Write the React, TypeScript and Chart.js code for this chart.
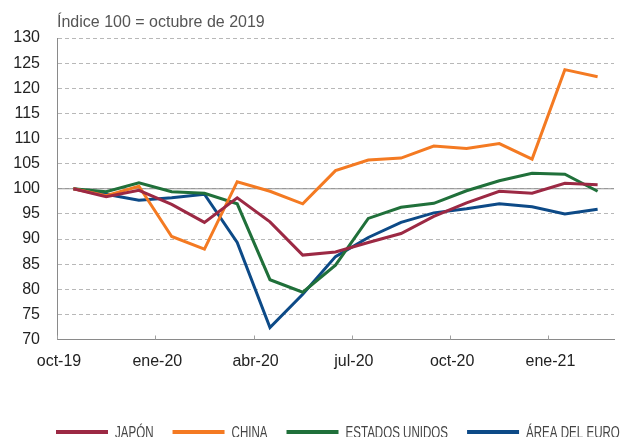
import React, { useEffect, useRef } from "react";
import { Chart, registerables } from "chart.js";
Chart.register(...registerables);

const months = ["oct-19","nov-19","dic-19","ene-20","feb-20","mar-20","abr-20","may-20","jun-20","jul-20","ago-20","sep-20","oct-20","nov-20","dic-20","ene-21","feb-21"];
const tickMonths = ["oct-19","ene-20","abr-20","jul-20","oct-20","ene-21"];
const japon = [100, 98.4, 99.7, 96.9, 93.3, 98.2, 93.4, 86.8, 87.4, 89.3, 91.1, 94.5, 97.2, 99.5, 99.1, 101.1, 100.8];
const china = [100, 98.6, 100.5, 90.5, 88.0, 101.4, 99.5, 97.0, 103.6, 105.7, 106.1, 108.5, 108.0, 109.0, 105.9, 123.7, 122.3];
const eeuu = [100, 99.4, 101.2, 99.4, 99.1, 97.0, 81.9, 79.4, 84.8, 94.1, 96.3, 97.1, 99.6, 101.6, 103.1, 102.9, 99.5];
const euro = [100, 98.9, 97.7, 98.2, 98.9, 89.3, 72.4, 79.0, 86.5, 90.3, 93.3, 95.2, 96.0, 97.0, 96.4, 95.0, 95.9];
const seriesNames = ["JAPÓN", "CHINA", "ESTADOS UNIDOS", "ÁREA DEL EURO"];
const seriesColors = ["#9C2944", "#F47A22", "#20703A", "#0D4A87"];
const titleText = "Índice 100 = octubre de 2019";

const FONT = "'Liberation Sans', Arial, sans-serif";

const decor = {
  id: "decor",
  beforeDatasetsDraw(chart: any) {
    const { ctx, chartArea, scales } = chart;
    const x = scales.x, y = scales.y;
    ctx.save();
    const y100 = y.getPixelForValue(100);
    ctx.strokeStyle = "#8f8f8f";
    ctx.lineWidth = 1.2;
    ctx.setLineDash([]);
    ctx.beginPath();
    ctx.moveTo(chartArea.left, y100);
    ctx.lineTo(chartArea.right, y100);
    ctx.stroke();
    ctx.strokeStyle = "#a0a0a0";
    ctx.lineWidth = 1;
    x.ticks.forEach((t: any) => {
      const px = Math.round(x.getPixelForValue(t.value)) + 0.5;
      ctx.beginPath();
      ctx.moveTo(px, chartArea.bottom);
      ctx.lineTo(px, chartArea.bottom - 4);
      ctx.stroke();
    });
    ctx.restore();
  },
  afterDraw(chart: any) {
    const { ctx, chartArea } = chart;
    ctx.save();
    ctx.font = `16px ${FONT}`;
    ctx.fillStyle = "#555";
    ctx.textBaseline = "alphabetic";
    ctx.textAlign = "left";
    ctx.fillText(titleText, chartArea.left, 27);

    // legend
    const sx = 0.68;
    let cx = 56;
    const ly = 432;
    ctx.font = `17px ${FONT}`;
    chart.data.datasets.forEach((ds: any) => {
      ctx.strokeStyle = ds.borderColor;
      ctx.lineWidth = 4;
      ctx.beginPath();
      ctx.moveTo(cx, ly);
      ctx.lineTo(cx + 52, ly);
      ctx.stroke();
      const tx = cx + 59;
      const w = ctx.measureText(ds.label).width * sx;
      ctx.save();
      ctx.translate(tx, 438);
      ctx.scale(sx, 1);
      ctx.fillStyle = "#444";
      ctx.fillText(ds.label, 0, 0);
      ctx.restore();
      cx = tx + w + 19;
    });
    ctx.restore();
  },
};

export default function App() {
  const ref = useRef<HTMLCanvasElement | null>(null);
  useEffect(() => {
    if (!ref.current) return;
    Chart.defaults.font.family = FONT;
    const all = [japon, china, eeuu, euro];
    const chart = new Chart(ref.current, {
      type: "line",
      data: {
        datasets: all.map((arr, k) => ({
          label: seriesNames[k],
          data: months.map((m, i) => ({ x: i, y: arr[i] })),
          borderColor: seriesColors[k],
          backgroundColor: seriesColors[k],
          borderWidth: 3,
          pointRadius: 0,
          tension: 0,
          fill: false,
        })),
      },
      options: {
        animation: false,
        responsive: true,
        maintainAspectRatio: false,
        layout: { padding: { top: 38, right: 7, left: 0, bottom: 0 } },
        plugins: { legend: { display: false }, tooltip: { enabled: false }, title: { display: false } },
        scales: {
          x: {
            type: "linear",
            min: -0.5,
            max: months.length - 0.5,
            afterBuildTicks: (s: any) => {
              s.ticks = tickMonths.map((lab) => ({ value: months.indexOf(lab) - 0.5 }));
            },
            afterFit: (s: any) => { s.height = 97.5; },
            grid: { display: false, drawTicks: false },
            border: { display: true, color: "#8a8a8a", width: 1 },
            ticks: {
              autoSkip: false,
              maxRotation: 0,
              padding: 12,
              labelOffset: 2,
              color: "#222",
              font: { size: 16, family: FONT },
              callback: (v: any) => months[Math.round(Number(v) + 0.5)] ?? "",
            },
          },
          y: {
            min: 70,
            max: 130,
            afterFit: (s: any) => { s.width = 57; },
            grid: { display: true, drawTicks: false, color: "#b8b8b8", lineWidth: 1 },
            border: { display: true, color: "#8a8a8a", width: 1, dash: [4, 3] },
            ticks: {
              stepSize: 5,
              padding: 17,
              color: "#222",
              font: { size: 16, family: FONT },
            },
          },
        },
      },
      plugins: [decor],
    });
    return () => chart.destroy();
  }, []);
  return (
    <div style={{ position: "fixed", left: 0, top: 0, width: 621, height: 437, background: "#fff" }}>
      <canvas ref={ref} />
    </div>
  );
}
